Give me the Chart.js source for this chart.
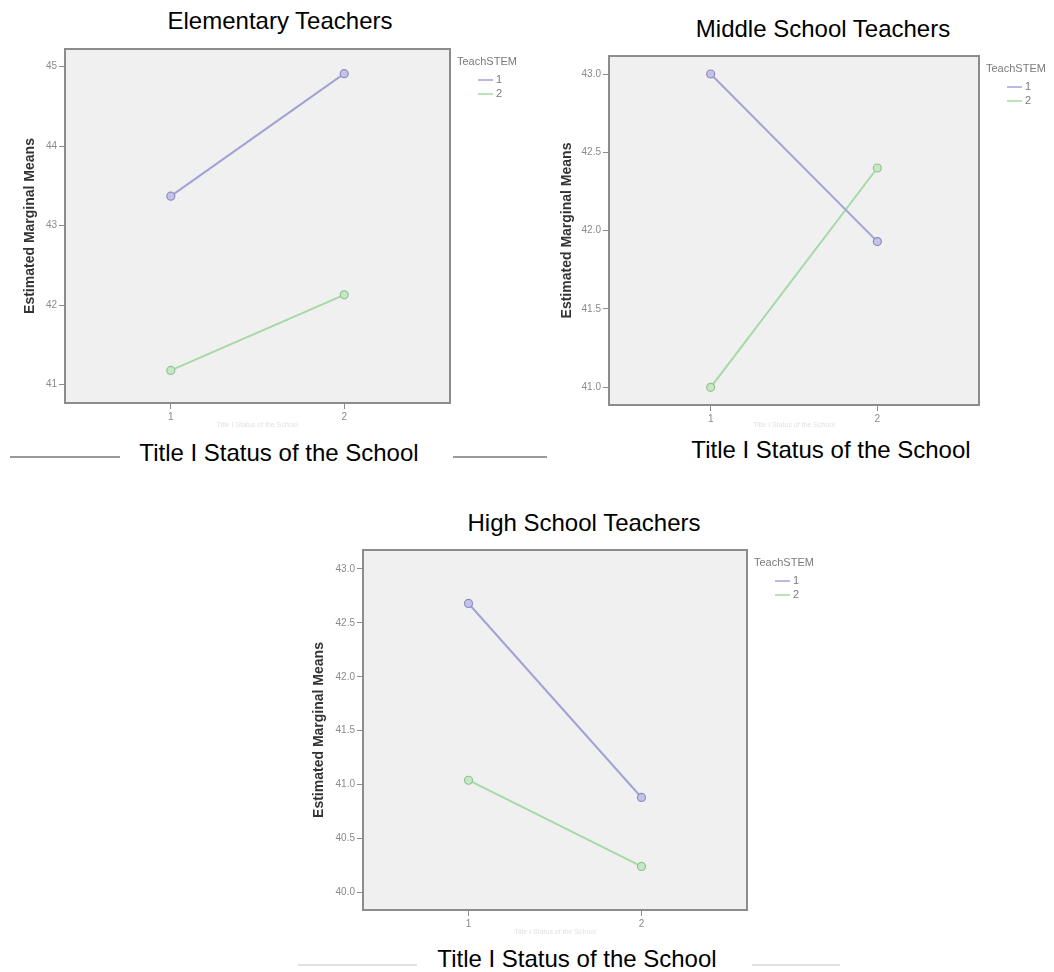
<!DOCTYPE html>
<html>
<head>
<meta charset="utf-8">
<script src="https://cdn.jsdelivr.net/npm/chart.js@4.4.1/dist/chart.umd.min.js"></script>
<style>
  html, body { margin:0; padding:0; background:#fff; }
  body { width:1054px; height:972px; position:relative; overflow:hidden; font-family:"Liberation Sans", Arial, sans-serif; }
  .t { position:absolute; font-size:24px; color:#000; white-space:nowrap; transform:translate(-50%,-50%); line-height:1; }
  .ln { position:absolute; height:2px; }
  canvas { position:absolute; }
</style>
</head>
<body>
<div class="t" style="left:280px; top:21px;">Elementary Teachers</div>
<div class="t" style="left:823px; top:29px;">Middle School Teachers</div>
<div class="t" style="left:584px; top:523px;">High School Teachers</div>

<div class="t" style="left:279px; top:453px;">Title I Status of the School</div>
<div class="t" style="left:831px; top:450px;">Title I Status of the School</div>
<div class="t" style="left:577px; top:959px;">Title I Status of the School</div>

<div class="ln" style="left:10px; width:110px; top:456px; background:#9a9a9a;"></div>
<div class="ln" style="left:453px; width:94px; top:456px; background:#9a9a9a;"></div>
<div class="ln" style="left:298px; width:119px; top:964px; background:#e2e2e2;"></div>
<div class="ln" style="left:752px; width:88px; top:964px; background:#e2e2e2;"></div>

<canvas id="elem" width="540" height="400" style="left:0px; top:40px;"></canvas>
<canvas id="middle" width="514" height="400" style="left:540px; top:45px;"></canvas>
<canvas id="high" width="560" height="410" style="left:290px; top:540px;"></canvas>

<script>
// ---- data ----
const schoolStatus = [1, 2];
const teachStemGroups = ['1', '2'];
const legendTitle = 'TeachSTEM';
const yAxisTitle = 'Estimated Marginal Means';
const xAxisTitle = 'Title I Status of the School';

const elemStem1 = [43.37, 44.91];
const elemStem2 = [41.18, 42.13];
const elemYTicks = [41, 42, 43, 44, 45];

const middleStem1 = [43.00, 41.93];
const middleStem2 = [41.00, 42.40];
const middleYTicks = [41.0, 41.5, 42.0, 42.5, 43.0];

const highStem1 = [42.68, 40.88];
const highStem2 = [41.04, 40.24];
const highYTicks = [40.0, 40.5, 41.0, 41.5, 42.0, 42.5, 43.0];

// ---- styles ----
const C1 = '#a3a2d6';
const C2 = '#a6d9a6';
const FONT = '"Liberation Sans", Arial, sans-serif';

const boxPlugin = {
  id: 'box',
  beforeDraw(chart) {
    const a = chart.chartArea, c = chart.ctx;
    c.save();
    c.fillStyle = '#f0f0f0';
    c.fillRect(a.left, a.top, a.right - a.left, a.bottom - a.top);
    c.strokeStyle = '#8c8c8c';
    c.lineWidth = 2;
    c.strokeRect(a.left, a.top, a.right - a.left, a.bottom - a.top);
    c.restore();
  }
};

const legendPlugin = {
  id: 'spssLegend',
  afterDraw(chart) {
    const a = chart.chartArea, c = chart.ctx;
    c.save();
    c.font = '11px ' + FONT;
    c.fillStyle = '#7a7a7a';
    c.textBaseline = 'middle';
    c.textAlign = 'left';
    c.fillText(legendTitle, a.right + 7, a.top + 13);
    chart.data.datasets.forEach((ds, i) => {
      const y = a.top + 31 + i * 14;
      c.strokeStyle = ds.borderColor;
      c.lineWidth = 1.5;
      c.beginPath();
      c.moveTo(a.right + 28, y);
      c.lineTo(a.right + 43, y);
      c.stroke();
      c.fillStyle = '#7a7a7a';
      c.fillText(ds.label, a.right + 46, y);
    });
    c.restore();
  }
};

function zeroPad(s) { s.paddingTop = 0; s.paddingBottom = 0; s.paddingLeft = 0; s.paddingRight = 0; }

function makePanel(id, cfg) {
  return new Chart(document.getElementById(id), {
    type: 'line',
    data: {
      datasets: [
        { label: teachStemGroups[0], data: schoolStatus.map((x, i) => ({ x, y: cfg.s1[i] })),
          borderColor: C1, backgroundColor: '#c4c3e6', pointBorderColor: '#8d8cc4',
          borderWidth: 2, pointRadius: 4, pointBorderWidth: 1.2 },
        { label: teachStemGroups[1], data: schoolStatus.map((x, i) => ({ x, y: cfg.s2[i] })),
          borderColor: C2, backgroundColor: '#c6e8c6', pointBorderColor: '#8fc48f',
          borderWidth: 2, pointRadius: 4, pointBorderWidth: 1.2 }
      ]
    },
    options: {
      responsive: false, animation: false, devicePixelRatio: 1,
      layout: { padding: cfg.pad },
      plugins: { legend: { display: false }, tooltip: { enabled: false }, title: { display: false } },
      scales: {
        x: {
          type: 'linear', min: 0.39, max: 2.61,
          afterBuildTicks: s => { s.ticks = schoolStatus.map(v => ({ value: v })); },
          afterFit: s => { s.height = cfg.xH; zeroPad(s); },
          ticks: { color: '#8a8a8a', font: { family: FONT, size: 10 }, padding: 2, callback: v => String(v) },
          grid: { drawOnChartArea: false, drawTicks: true, tickLength: 6, tickColor: '#8c8c8c', color: '#8c8c8c' },
          border: { display: false },
          title: { display: true, text: xAxisTitle, color: '#e2e2e2', font: { family: FONT, size: 7, lineHeight: 1.2 }, padding: { top: 0, bottom: cfg.xTitlePad } }
        },
        y: {
          type: 'linear', min: cfg.yMin, max: cfg.yMax,
          afterBuildTicks: s => { s.ticks = cfg.yTicks.map(v => ({ value: v })); },
          afterFit: s => { s.width = cfg.yW; zeroPad(s); },
          ticks: { color: '#8a8a8a', font: { family: FONT, size: 10 }, padding: 2, callback: cfg.fmt },
          grid: { drawOnChartArea: false, drawTicks: true, tickLength: 6, tickColor: '#8c8c8c', color: '#8c8c8c' },
          border: { display: false },
          title: { display: true, text: yAxisTitle, color: '#333', font: { family: FONT, size: 14, weight: 'bold', lineHeight: 1.2 }, padding: { top: cfg.yTitlePad, bottom: 0 } }
        }
      }
    },
    plugins: [boxPlugin, legendPlugin]
  });
}

makePanel('elem', {
  s1: elemStem1, s2: elemStem2, yTicks: elemYTicks, yMin: 40.77, yMax: 45.22,
  fmt: v => String(Math.round(v)),
  pad: { left: 0, top: 9, right: 90, bottom: 0 }, yW: 65, xH: 37, yTitlePad: 21.6, xTitlePad: 10.8
});
makePanel('middle', {
  s1: middleStem1, s2: middleStem2, yTicks: middleYTicks, yMin: 40.887, yMax: 43.115,
  fmt: v => Number(v).toFixed(1),
  pad: { left: 0, top: 11, right: 75, bottom: 0 }, yW: 69, xH: 40, yTitlePad: 18.6, xTitlePad: 15.8
});
makePanel('high', {
  s1: highStem1, s2: highStem2, yTicks: highYTicks, yMin: 39.836, yMax: 43.176,
  fmt: v => Number(v).toFixed(1),
  pad: { left: 0, top: 10, right: 103, bottom: 0 }, yW: 73, xH: 40, yTitlePad: 20.6, xTitlePad: 14.1
});
</script>
</body>
</html>
